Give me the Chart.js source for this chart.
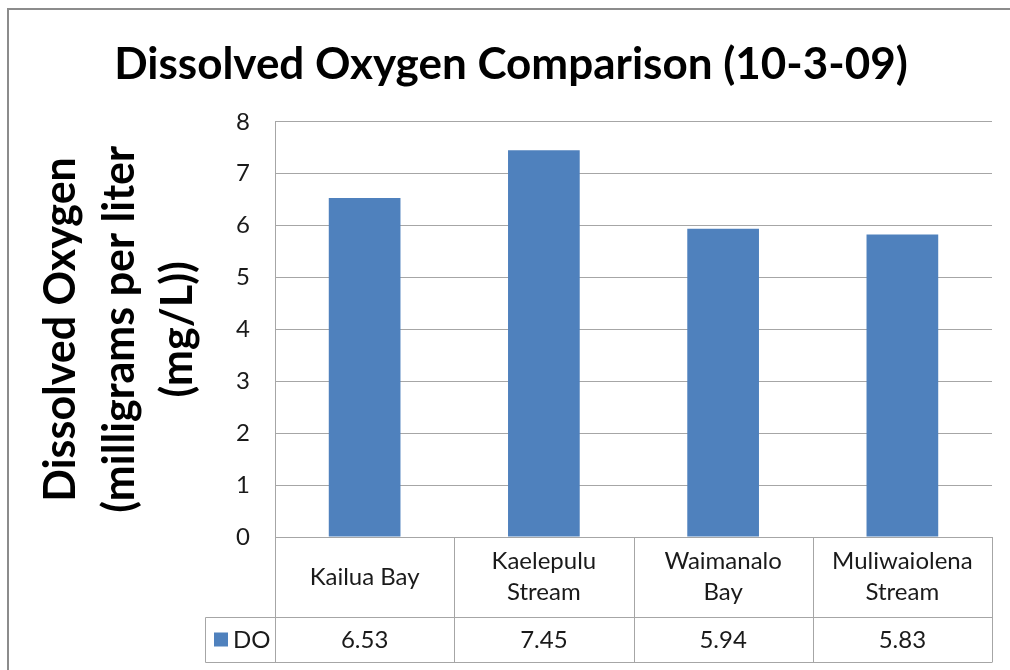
<!DOCTYPE html>
<html>
<head>
<meta charset="utf-8">
<script src="https://cdn.jsdelivr.net/npm/chart.js@4"></script>
<style>
  html, body { margin: 0; padding: 0; background: #fff; }
  #wrap { width: 1010px; height: 670px; }
</style>
</head>
<body>
<div id="wrap"><canvas id="do-chart"></canvas></div>
<script>
// data
const sites = [['Kailua Bay'], ['Kaelepulu', 'Stream'], ['Waimanalo', 'Bay'], ['Muliwaiolena', 'Stream']];
const doValues = [6.53, 7.45, 5.94, 5.83];
const seriesName = 'DO';
const yMin = 0, yMax = 8, yStep = 1;

const FONT = 'Lato, "Open Sans", sans-serif';
const GRID = '#a6a6a6';
const BAR = '#4f81bd';

// draws the Excel-style frame and the data table under the plot
const dataTable = {
  id: 'dataTable',
  beforeDraw(chart) {
    const ctx = chart.ctx;
    ctx.save();
    ctx.strokeStyle = '#8c8c8c';
    ctx.lineWidth = 2;
    ctx.beginPath();
    ctx.moveTo(8, 680); ctx.lineTo(8, 9); ctx.lineTo(1020, 9);
    ctx.stroke();
    ctx.restore();
  },
  afterDraw(chart) {
    const { ctx, chartArea: a, scales: { x } } = chart;
    const n = chart.data.labels.length;
    const half = (x.getPixelForValue(1) - x.getPixelForValue(0)) / 2;
    const top = a.bottom, mid = a.bottom + 80, bot = a.bottom + 125;
    const legLeft = a.left - 70;
    const line = (x1, y1, x2, y2) => { ctx.beginPath(); ctx.moveTo(x1, y1); ctx.lineTo(x2, y2); ctx.stroke(); };
    const snap = v => Math.round(v) + 0.5;

    ctx.save();
    ctx.strokeStyle = GRID;
    ctx.lineWidth = 1;
    for (let i = 0; i <= n; i++) {
      const px = snap(i < n ? x.getPixelForValue(i) - half : x.getPixelForValue(n - 1) + half);
      line(px, top, px, bot);
    }
    line(snap(legLeft), snap(mid), snap(a.right), snap(mid));
    line(snap(legLeft), snap(bot), snap(a.right), snap(bot));
    line(snap(legLeft), snap(mid), snap(legLeft), snap(bot));

    ctx.fillStyle = '#1a1a1a';
    ctx.font = '24px ' + FONT;
    ctx.textAlign = 'center';
    ctx.textBaseline = 'middle';
    const ds = chart.data.datasets[0];
    chart.data.labels.forEach((lab, i) => {
      const cx = x.getPixelForValue(i);
      const lines = Array.isArray(lab) ? lab : [lab];
      const cy = (top + mid) / 2;
      lines.forEach((t, j) => ctx.fillText(t, cx, cy + (j - (lines.length - 1) / 2) * 31));
      ctx.fillText(ds.data[i].toFixed(2), cx, (mid + bot) / 2 + 1);
    });

    // legend key in the table
    ctx.fillStyle = ds.backgroundColor;
    ctx.fillRect(legLeft + 9, (mid + bot) / 2 - 7, 14, 14);
    ctx.fillStyle = '#1a1a1a';
    ctx.textAlign = 'left';
    ctx.fillText(ds.label, legLeft + 28, (mid + bot) / 2 + 1);
    ctx.restore();
  }
};

new Chart(document.getElementById('do-chart'), {
  type: 'bar',
  data: {
    labels: sites,
    datasets: [{
      label: seriesName,
      data: doValues,
      backgroundColor: BAR,
      borderWidth: 0,
      categoryPercentage: 1,
      barPercentage: 0.4
    }]
  },
  options: {
    responsive: true,
    maintainAspectRatio: false,
    animation: false,
    layout: { padding: { left: 30, right: 18, top: 0, bottom: 8 } },
    plugins: {
      legend: { display: false },
      tooltip: { enabled: false },
      title: {
        display: true,
        text: 'Dissolved Oxygen Comparison (10-3-09)',
        color: '#000',
        font: { family: FONT, size: 44, weight: 'bold', lineHeight: 1.2 },
        padding: { top: 38, bottom: 31 }
      }
    },
    scales: {
      x: {
        grid: { display: false, drawTicks: false },
        border: { display: false },
        ticks: { display: false },
        afterFit(scale) { scale.height = 125; }
      },
      y: {
        min: yMin,
        max: yMax,
        ticks: {
          stepSize: yStep,
          padding: 25,
          color: '#1a1a1a',
          font: { family: FONT, size: 24 }
        },
        grid: { color: GRID, drawTicks: false },
        border: { color: GRID },
        title: {
          display: true,
          text: ['Dissolved Oxygen', '(milligrams per liter', '(mg/L))'],
          color: '#000',
          font: { family: FONT, size: 43, weight: 'bold', lineHeight: 1.36 },
          padding: { top: 2, bottom: 0 }
        },
        afterFit(scale) { scale.width = 245; }
      }
    }
  },
  plugins: [dataTable]
});
</script>
</body>
</html>
